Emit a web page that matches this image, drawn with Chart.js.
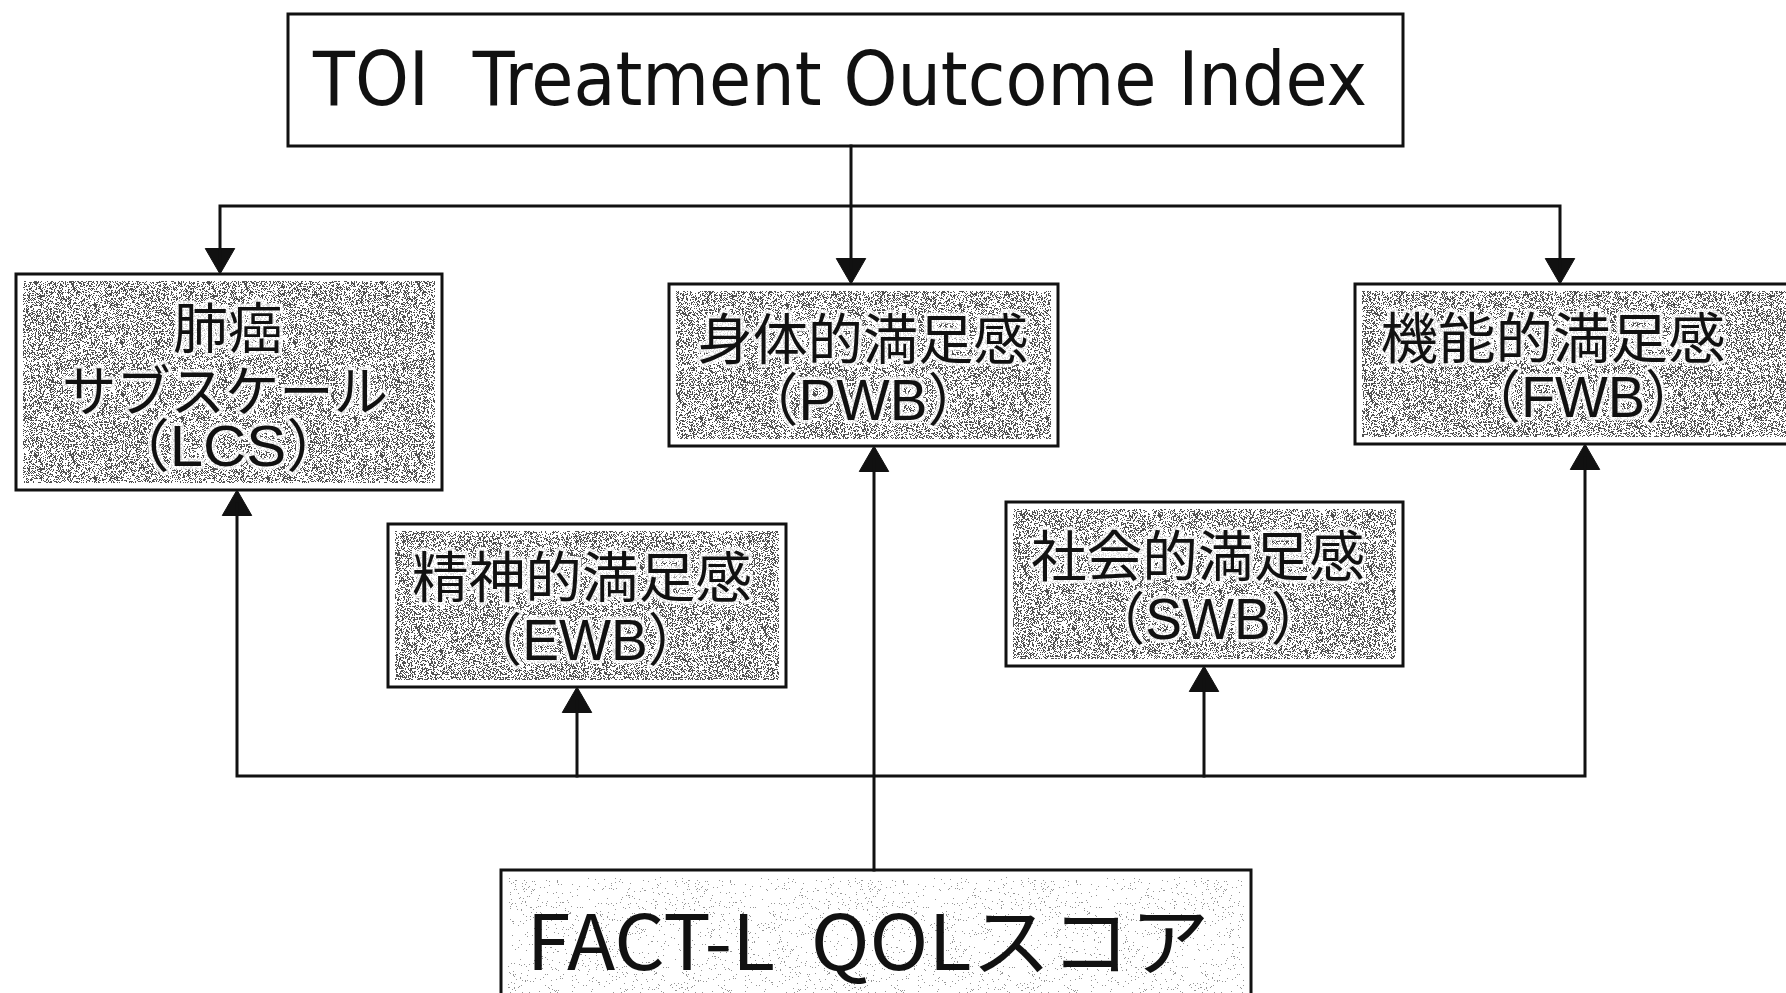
<!DOCTYPE html>
<html><head><meta charset="utf-8">
<script src="https://cdn.jsdelivr.net/npm/chart.js@4.4.1/dist/chart.umd.min.js"></script>
<style>html,body{margin:0;padding:0;background:#fff;overflow:hidden}#wrap{width:1786px;height:993px}</style>
</head><body><div id="wrap"><canvas id="c" width="1786" height="993"></canvas></div>
<script>
// ---- diagram data (in picture coordinates) ----
const nodeLines = [
  ['TOI  Treatment Outcome Index'],
  ['肺癌', 'サブスケール', '（LCS）'],
  ['身体的満足感', '（PWB）'],
  ['機能的満足感', '（FWB）'],
  ['精神的満足感', '（EWB）'],
  ['社会的満足感', '（SWB）'],
  ['FACT-L  QOLスコア']
];
const nodeLeft   = [288, 16, 669, 1355, 388, 1006, 501];
const nodeRight  = [1403, 442, 1058, 1800, 786, 1403, 1251];
const nodeTop    = [14, 274, 284, 284, 524, 502, 870];
const nodeBottom = [146, 490, 446, 444, 687, 666, 1010];
const lineCenterX = [[840], [228, 225, 228], [863, 863], [1553, 1583], [582, 585], [1198, 1208], [868]];
const lineCenterY = [[86], [327, 390, 450], [338, 404], [337, 401], [576, 644], [555, 623], [941]];
const lineWidthPx = [[1054], [110, 326, 236], [331, 242], [345, 236], [340, 236], [334, 236], [683]];
const nodeShaded = [0, 1, 1, 1, 1, 1, 2];

// connectors: polylines
const connectors = [
  [[851, 146], [851, 268]],
  [[220, 262], [220, 206], [1560, 206], [1560, 272]],
  [[874, 870], [874, 460]],
  [[237, 504], [237, 776], [1585, 776], [1585, 458]],
  [[577, 776], [577, 701]],
  [[1204, 776], [1204, 680]]
];
// arrow tips: x, y, direction (1 = down, -1 = up)
const arrowTipX = [851, 220, 1560, 874, 237, 577, 1204, 1585];
const arrowTipY = [284, 274, 284, 446, 490, 687, 666, 444];
const arrowDir  = [1, 1, 1, -1, -1, -1, -1, -1];

// ---- speckle texture (deterministic) ----
function makePattern(ctx, density, dark, seed) {
  const pc = document.createElement('canvas');
  pc.width = 173; pc.height = 173;
  const p = pc.getContext('2d');
  const img = p.createImageData(173, 173);
  let s = seed;
  const rnd = () => { s = (s * 1103515245 + 12345) & 0x7fffffff; return s / 0x7fffffff; };
  for (let i = 0; i < 173 * 173; i++) {
    const v = rnd() < density ? dark : 255;
    img.data[i * 4] = v; img.data[i * 4 + 1] = v; img.data[i * 4 + 2] = v; img.data[i * 4 + 3] = 255;
  }
  p.putImageData(img, 0, 0);
  return ctx.createPattern(pc, 'repeat');
}

const boxPlugin = {
  id: 'boxes',
  beforeDatasetsDraw(chart) {
    const ctx = chart.ctx, xs = chart.scales.x, ys = chart.scales.y;
    const fills = ['#fff', makePattern(ctx, 0.37, 80, 12345), makePattern(ctx, 0.03, 150, 777)];
    ctx.save();
    ctx.fillStyle = '#fff';
    ctx.fillRect(0, 0, chart.width, chart.height);
    for (let i = 0; i < nodeLines.length; i++) {
      const x0 = xs.getPixelForValue(nodeLeft[i]), x1 = xs.getPixelForValue(nodeRight[i]);
      const y0 = ys.getPixelForValue(nodeTop[i]), y1 = ys.getPixelForValue(nodeBottom[i]);
      ctx.fillStyle = '#fff';
      ctx.fillRect(x0, y0, x1 - x0, y1 - y0);
      ctx.fillStyle = fills[nodeShaded[i]];
      ctx.fillRect(x0 + 7, y0 + 7, x1 - x0 - 14, y1 - y0 - 14);
      ctx.lineWidth = 3;
      ctx.strokeStyle = '#111';
      ctx.strokeRect(x0, y0, x1 - x0, y1 - y0);
    }
    ctx.restore();
  },
  afterDatasetsDraw(chart) {
    const ctx = chart.ctx, xs = chart.scales.x, ys = chart.scales.y;
    ctx.save();
    ctx.textAlign = 'center';
    ctx.textBaseline = 'middle';
    for (let i = 0; i < nodeLines.length; i++) {
      const lines = nodeLines[i];
      for (let j = 0; j < lines.length; j++) {
        const cx = xs.getPixelForValue(lineCenterX[i][j]);
        const cy = ys.getPixelForValue(lineCenterY[i][j]);
        const isLatin = /^（/.test(lines[j]);
        let size = i === 0 ? 74 : (i === 6 ? 76 : 55);
        if (isLatin) size = 57;
        ctx.font = size + 'px ' + (isLatin ? '"Liberation Sans", Arial, "Noto Sans CJK JP", sans-serif' : '"Noto Sans CJK JP", "DejaVu Sans", sans-serif');
        if (i === 0) ctx.font = size + 'px "DejaVu Sans", sans-serif';
        const w = ctx.measureText(lines[j]).width;
        const sx = lineWidthPx[i][j] / w;
        ctx.save();
        ctx.translate(cx, cy);
        ctx.scale(sx, 1);
        if (nodeShaded[i] === 1) {
          ctx.lineWidth = 7;
          ctx.lineJoin = 'round';
          ctx.strokeStyle = 'rgba(255,255,255,0.8)';
          ctx.strokeText(lines[j], 0, 0);
        }
        ctx.fillStyle = '#111';
        ctx.fillText(lines[j], 0, 0);
        ctx.restore();
      }
    }
    ctx.restore();
  }
};

const datasets = connectors.map(seg => ({
  type: 'line',
  data: seg.map(p => ({ x: p[0], y: p[1] })),
  borderColor: '#111',
  borderWidth: 3,
  pointRadius: 0,
  fill: false,
  tension: 0
}));
const R = 17;
datasets.push({
  type: 'scatter',
  data: arrowTipX.map((x, k) => ({ x: x, y: arrowTipY[k] - arrowDir[k] * R })),
  pointStyle: 'triangle',
  rotation: arrowDir.map(d => d === 1 ? 180 : 0),
  pointRadius: R,
  pointBackgroundColor: '#111',
  pointBorderColor: '#111',
  pointBorderWidth: 1
});

new Chart(document.getElementById('c'), {
  type: 'scatter',
  data: { datasets },
  options: {
    responsive: false,
    animation: false,
    devicePixelRatio: 1,
    layout: { padding: 0, autoPadding: false },
    plugins: { legend: { display: false }, tooltip: { enabled: false } },
    scales: {
      x: { type: 'linear', min: 0, max: 1786, display: false },
      y: { type: 'linear', min: 0, max: 993, reverse: true, display: false }
    },
    elements: { line: { borderCapStyle: 'square' } }
  },
  plugins: [boxPlugin]
});
</script>
</body></html>
